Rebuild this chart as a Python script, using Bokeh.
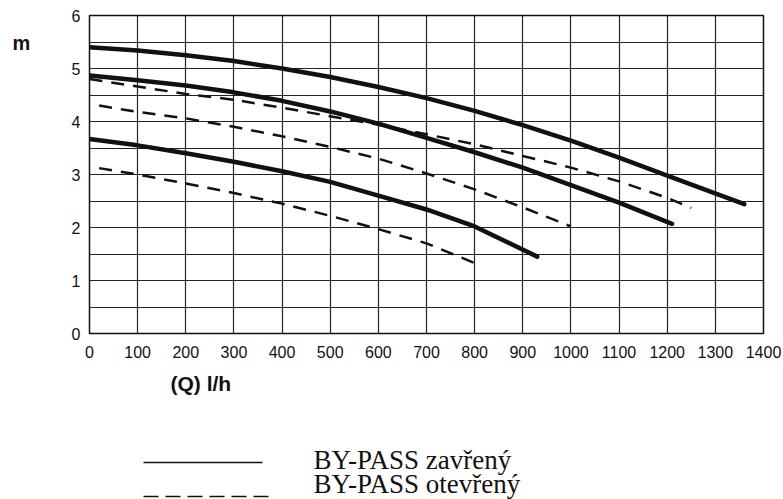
from bokeh.plotting import figure
from bokeh.layouts import column, row
from bokeh.models import Range1d, FixedTicker, Label
from bokeh.embed import file_html
from bokeh.resources import INLINE

# Pump head curves: flow Q (l/h) against head (m)
# BY-PASS closed (solid curves), three speeds
q_closed_hi = [0, 100, 200, 300, 400, 500, 600, 700, 800, 900, 1000, 1100, 1200, 1360]
h_closed_hi = [5.4, 5.34, 5.25, 5.14, 5.0, 4.84, 4.65, 4.44, 4.2, 3.93, 3.64, 3.32, 2.98, 2.44]

q_closed_mid = [0, 100, 200, 300, 400, 500, 600, 700, 800, 900, 1000, 1100, 1210]
h_closed_mid = [4.87, 4.78, 4.68, 4.55, 4.39, 4.19, 3.96, 3.69, 3.42, 3.13, 2.8, 2.47, 2.07]

q_closed_lo = [0, 100, 200, 300, 400, 500, 600, 700, 800, 930]
h_closed_lo = [3.67, 3.55, 3.4, 3.24, 3.06, 2.86, 2.6, 2.34, 2.02, 1.45]

# BY-PASS open (dashed curves)
q_open_hi = [0, 100, 200, 300, 400, 500, 600, 700, 800, 900, 1000, 1100, 1200, 1250]
h_open_hi = [4.8, 4.66, 4.52, 4.41, 4.26, 4.1, 3.94, 3.76, 3.57, 3.35, 3.13, 2.87, 2.56, 2.37]

q_open_mid = [20, 100, 200, 300, 400, 500, 600, 700, 800, 900, 1000]
h_open_mid = [4.3, 4.18, 4.06, 3.9, 3.72, 3.52, 3.3, 3.02, 2.72, 2.38, 2.02]

q_open_lo = [20, 100, 200, 300, 400, 500, 600, 700, 800]
h_open_lo = [3.12, 3.0, 2.83, 2.65, 2.45, 2.22, 1.97, 1.7, 1.33]

x_ticks = list(range(0, 1401, 100))
y_ticks = [0, 1, 2, 3, 4, 5, 6]
y_grid = [0, 0.5, 1, 1.5, 2, 2.5, 3, 3.5, 4, 4.5, 5, 5.5, 6]

legend_closed = "BY-PASS zavřený"
legend_open = "BY-PASS otevřený"
x_title = "(Q) l/h"
y_title = "m"

INK = "#111111"
SOLID_W = 4.5
DASH_W = 2.5
DASH = "13 9"


def blank(width, height):
    """A bare figure whose ranges run in pixels, used for titles and the key."""
    f = figure(width=width, height=height, output_backend="svg", toolbar_location=None,
               x_range=Range1d(0, width), y_range=Range1d(height, 0),
               min_border=0, min_border_left=0, min_border_right=0,
               min_border_top=0, min_border_bottom=0)
    f.axis.visible = False
    f.grid.visible = False
    f.outline_line_color = None
    f.background_fill_color = "white"
    f.border_fill_color = "white"
    return f


# ---- main chart ----
p = figure(width=715, height=365, output_backend="svg", toolbar_location=None,
           x_range=Range1d(0, 1400), y_range=Range1d(0, 6),
           min_border_left=20, min_border_right=20, min_border_top=15,
           min_border_bottom=32)
p.background_fill_color = "white"
p.border_fill_color = "white"
p.outline_line_color = INK
p.outline_line_width = 1.5

for ax, ticks, standoff in ((p.xaxis[0], x_ticks, 12), (p.yaxis[0], y_ticks, 9)):
    ax.ticker = FixedTicker(ticks=ticks)
    ax.axis_line_color = None
    ax.major_tick_line_color = None
    ax.minor_tick_line_color = None
    ax.major_tick_out = 0
    ax.major_tick_in = 0
    ax.major_label_standoff = standoff
    ax.major_label_text_font = "Liberation Sans"
    ax.major_label_text_font_size = "16px"
    ax.major_label_text_color = INK

p.xgrid.ticker = FixedTicker(ticks=x_ticks)
p.ygrid.ticker = FixedTicker(ticks=y_grid)
for g in (p.xgrid[0], p.ygrid[0]):
    g.grid_line_color = "#222222"
    g.grid_line_width = 1.2
    g.grid_line_alpha = 1.0

solid = dict(line_color=INK, line_width=SOLID_W, line_cap="round", line_join="round")
dashed = dict(line_color=INK, line_width=DASH_W, line_dash=DASH)

p.line(q_closed_hi, h_closed_hi, **solid)
p.line(q_closed_mid, h_closed_mid, **solid)
p.line(q_closed_lo, h_closed_lo, **solid)
p.line(q_open_hi, h_open_hi, **dashed)
p.line(q_open_mid, h_open_mid, **dashed)
p.line(q_open_lo, h_open_lo, **dashed)

# ---- unit of the vertical axis, beside the chart ----
side = blank(68, 365)
side.add_layout(Label(x=12, y=32, text=y_title, text_font="Liberation Sans",
                      text_font_style="bold", text_font_size="20px",
                      text_baseline="middle", text_color=INK))

# ---- horizontal axis title and key below the chart ----
foot = blank(783, 134)
foot.add_layout(Label(x=170, y=18, text=x_title, text_font="Liberation Sans",
                      text_font_style="bold", text_font_size="21px",
                      text_baseline="middle", text_color=INK))

serif = dict(text_font="Liberation Serif", text_font_size="27px",
             text_baseline="alphabetic", text_color=INK)
foot.add_layout(Label(x=313, y=94, text=legend_closed, **serif))
foot.add_layout(Label(x=313, y=118, text=legend_open, **serif))

foot.line([143, 262], [97, 97], line_color=INK, line_width=1.3)
foot.line([143, 268], [131, 131], line_color=INK, line_width=1.3, line_dash="15 7")

layout = column(row(side, p), foot)

open("out.html", "w").write(file_html(layout, INLINE))
